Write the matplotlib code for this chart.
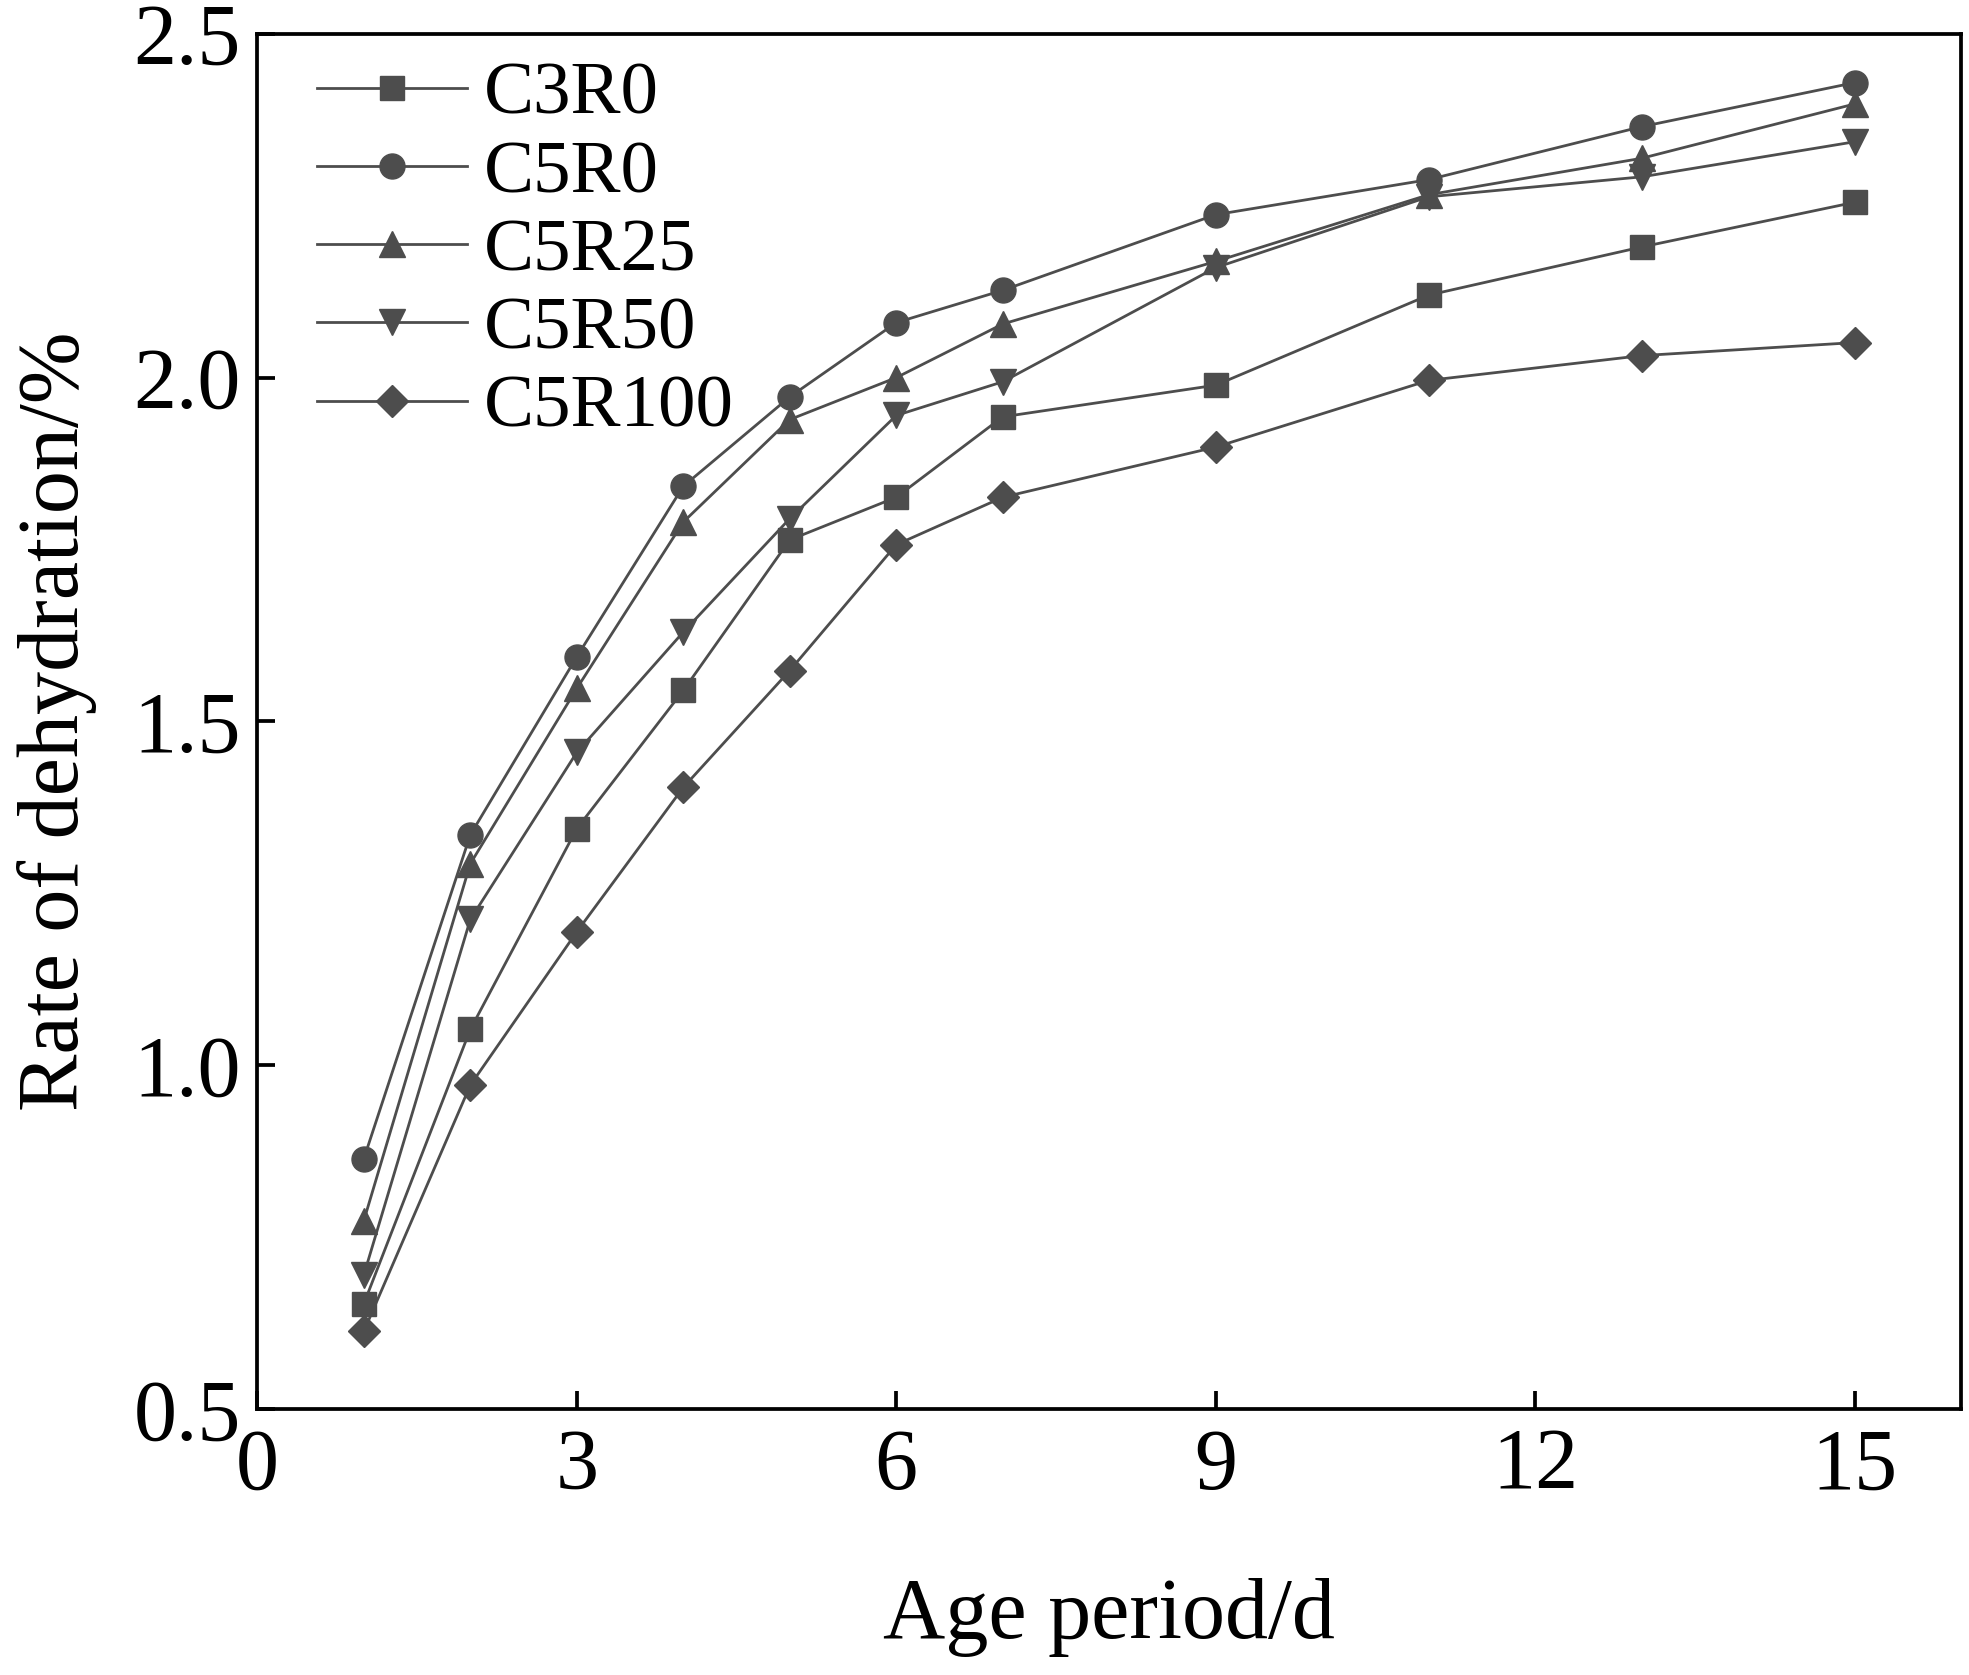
import numpy as np
import matplotlib
matplotlib.use("Agg")
import matplotlib.pyplot as plt

plt.rcParams['font.family'] = ['Liberation Serif', 'DejaVu Serif']

# Data
age = [1, 2, 3, 4, 5, 6, 7, 9, 11, 13, 15]
c3r0 = [0.653, 1.052, 1.344, 1.545, 1.764, 1.826, 1.943, 1.989, 2.120, 2.190, 2.255]
c5r0 = [0.864, 1.335, 1.594, 1.842, 1.972, 2.080, 2.127, 2.237, 2.288, 2.365, 2.429]
c5r25 = [0.774, 1.293, 1.548, 1.790, 1.939, 2.000, 2.078, 2.169, 2.266, 2.319, 2.398]
c5r50 = [0.695, 1.212, 1.455, 1.630, 1.795, 1.945, 1.994, 2.160, 2.263, 2.292, 2.343]
c5r100 = [0.613, 0.971, 1.194, 1.404, 1.574, 1.757, 1.826, 1.899, 1.996, 2.032, 2.051]

series = [
    ("C3R0", c3r0, "s", 17),
    ("C5R0", c5r0, "o", 18),
    ("C5R25", c5r25, "^", 19),
    ("C5R50", c5r50, "v", 19),
    ("C5R100", c5r100, "D", 16),
]

color = "#4d4d4d"

fig = plt.figure(figsize=(19.69, 16.75), dpi=100)
ax = fig.add_axes([0.1307, 0.1588, 0.8653, 0.821])

for name, vals, mk, ms in series:
    ax.plot(age, vals, color=color, marker=mk, markersize=ms, linewidth=2.0,
            markerfacecolor=color, markeredgecolor=color, label=name)

ax.set_xlim(0, 16)
ax.set_ylim(0.5, 2.5)
ax.set_xticks([0, 3, 6, 9, 12, 15])
ax.set_yticks([0.5, 1.0, 1.5, 2.0, 2.5])
ax.set_yticklabels(["0.5", "1.0", "1.5", "2.0", "2.5"])

for sp in ax.spines.values():
    sp.set_linewidth(2.7)

ax.tick_params(axis='both', direction='in', length=13, width=2.7, labelsize=62)
ax.tick_params(axis='x', pad=14)
ax.tick_params(axis='y', pad=12)

ax.set_xlabel("Age period/d", fontsize=62, labelpad=50)
ax.set_ylabel("Rate of dehydration/%", fontsize=62, labelpad=26)

ax.legend(loc='upper left', bbox_to_anchor=(0.035, 0.98), frameon=False,
          fontsize=54, handlelength=2.0, handletextpad=0.22, labelspacing=0.13,
          borderpad=0, borderaxespad=0)

fig.savefig("out.png", dpi=100)
